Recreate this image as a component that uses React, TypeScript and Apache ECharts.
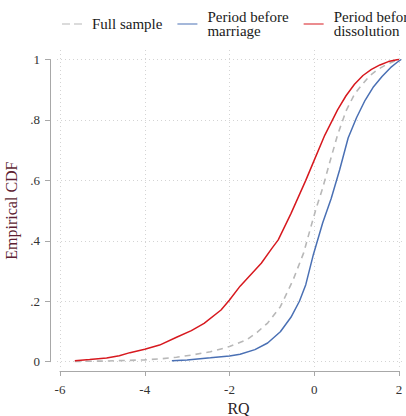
import React, { useEffect, useRef } from "react";
import * as echarts from "echarts";

// ---- Data ----
const fullX = [-5.65, -5.0, -4.5, -4.0, -3.6, -3.25, -2.9, -2.45, -2.0, -1.6, -1.35, -1.1, -0.8, -0.5, -0.25, -0.1, 0.05, 0.2, 0.35, 0.55, 0.75, 0.95, 1.1, 1.3, 1.5, 1.7, 1.9, 2.03];
const fullY = [0.001, 0.002, 0.004, 0.006, 0.01, 0.015, 0.022, 0.033, 0.05, 0.072, 0.097, 0.128, 0.182, 0.27, 0.36, 0.436, 0.51, 0.575, 0.652, 0.75, 0.83, 0.885, 0.912, 0.945, 0.967, 0.983, 0.995, 1.0];

const marX = [-3.36, -3.0, -2.45, -2.0, -1.75, -1.4, -1.1, -0.8, -0.55, -0.35, -0.2, -0.02, 0.2, 0.4, 0.6, 0.8, 1.0, 1.2, 1.4, 1.6, 1.8, 1.95, 2.05];
const marY = [0.003, 0.006, 0.013, 0.019, 0.025, 0.04, 0.062, 0.099, 0.147, 0.2, 0.255, 0.355, 0.46, 0.54, 0.635, 0.74, 0.808, 0.865, 0.91, 0.944, 0.973, 0.99, 1.0];

const disX = [-5.65, -5.3, -4.9, -4.6, -4.35, -4.0, -3.65, -3.25, -2.9, -2.6, -2.2, -2.0, -1.75, -1.5, -1.25, -1.0, -0.85, -0.55, -0.2, 0.0, 0.25, 0.55, 0.75, 0.95, 1.15, 1.35, 1.55, 1.75, 1.95, 2.0];
const disY = [0.003, 0.007, 0.012, 0.02, 0.03, 0.041, 0.055, 0.081, 0.103, 0.127, 0.171, 0.204, 0.25, 0.288, 0.326, 0.375, 0.403, 0.49, 0.6, 0.667, 0.75, 0.833, 0.88, 0.918, 0.947, 0.967, 0.982, 0.993, 0.999, 1.0];

const seriesNames = ["Full sample", "Period before\nmarriage", "Period before\ndissolution"];
const xTicks = [-6, -4, -2, 0, 2];
const yTicks = [0, 0.2, 0.4, 0.6, 0.8, 1];

const zip = (xs: number[], ys: number[]) => xs.map((x, i) => [x, ys[i]]);

const FONT = "Liberation Serif";

const fmtY = (v: number) => {
  if (Math.abs(v) < 1e-9) return "0";
  if (Math.abs(v - 1) < 1e-9) return "1";
  return String(+v.toFixed(1)).replace(/^0/, "");
};

const GRAY = "#b8b8b8";
const BLUE = "#4a70b4";
const RED = "#d7191f";

export default function App() {
  const ref = useRef<HTMLDivElement>(null);
  useEffect(() => {
    if (!ref.current) return;
    const chart = echarts.init(ref.current, undefined, { renderer: "svg" });
    const option: any = {
      animation: false,
      backgroundColor: "#ffffff",
      textStyle: { fontFamily: FONT },
      legend: {
        left: 62,
        top: 9,
        width: 900,
        padding: 0,
        itemWidth: 20,
        itemHeight: 1.6,
        itemGap: 15,
        data: [
          { name: seriesNames[0], icon: "path://M0,0h8v1h-8zM12,0h8v1h-8z", itemStyle: { color: GRAY } },
          { name: seriesNames[1], icon: "path://M0,0h20v1h-20z", itemStyle: { color: BLUE } },
          { name: seriesNames[2], icon: "path://M0,0h20v1h-20z", itemStyle: { color: RED } },
        ],
        textStyle: {
          fontFamily: FONT,
          fontSize: 15,
          lineHeight: 15,
          color: "#1a1a1a",
          padding: [0, 0, 0, 5],
        },
      },
      grid: [
        { left: 57, right: 4, top: 50, bottom: 48, outerBoundsMode: "none" },
        { left: 60, right: 7, top: 59.5, bottom: 54.3, outerBoundsMode: "none" },
      ],
      xAxis: [
        {
          type: "value",
          gridIndex: 0,
          min: -6.071,
          max: 2.071,
          axisLine: { show: false, onZero: false },
          axisTick: { show: false, customValues: xTicks },
          axisLabel: { show: false },
          splitLine: { show: true, lineStyle: { color: "#d4d4d4", width: 1, type: [1, 3] } },
        },
        {
          type: "value",
          gridIndex: 1,
          min: -6,
          max: 2,
          interval: 2,
          position: "bottom",
          offset: 9.3,
          name: "RQ",
          nameLocation: "middle",
          nameGap: 29,
          nameTextStyle: { fontFamily: FONT, fontSize: 16, color: "#2a2226", padding: [0, 0, 0, 18] },
          axisLine: { show: true, onZero: false, lineStyle: { color: "#a8a8a8", width: 1 } },
          axisTick: { show: true, length: 5, lineStyle: { color: "#a8a8a8" } },
          axisLabel: { show: true, margin: 12, fontFamily: FONT, fontSize: 13, color: "#333333" },
          splitLine: { show: false },
        },
      ],
      yAxis: [
        {
          type: "value",
          gridIndex: 0,
          min: -0.0208,
          max: 1.0314,
          axisLine: { show: false, onZero: false },
          axisTick: { show: false, customValues: yTicks },
          axisLabel: { show: false },
          splitLine: { show: true, lineStyle: { color: "#d4d4d4", width: 1, type: [1, 3] } },
        },
        {
          type: "value",
          gridIndex: 1,
          min: 0,
          max: 1,
          interval: 0.2,
          position: "left",
          offset: 10,
          name: "Empirical CDF",
          nameLocation: "middle",
          nameGap: 23,
          nameTextStyle: { fontFamily: FONT, fontSize: 16, color: "#5e1f33" },
          axisLine: { show: true, onZero: false, lineStyle: { color: "#a8a8a8", width: 1 } },
          axisTick: { show: true, length: 5, lineStyle: { color: "#a8a8a8" } },
          axisLabel: { show: true, margin: 10, fontFamily: FONT, fontSize: 13, color: "#333333", formatter: fmtY },
          splitLine: { show: false },
        },
      ],
      series: [
        {
          name: seriesNames[0],
          type: "line",
          xAxisIndex: 0,
          yAxisIndex: 0,
          data: zip(fullX, fullY),
          symbol: "none",
          itemStyle: { color: GRAY },
          lineStyle: { color: GRAY, width: 1.6, type: [6, 5] },
        },
        {
          name: seriesNames[1],
          type: "line",
          xAxisIndex: 0,
          yAxisIndex: 0,
          data: zip(marX, marY),
          symbol: "none",
          itemStyle: { color: BLUE },
          lineStyle: { color: BLUE, width: 1.5 },
        },
        {
          name: seriesNames[2],
          type: "line",
          xAxisIndex: 0,
          yAxisIndex: 0,
          data: zip(disX, disY),
          symbol: "none",
          itemStyle: { color: RED },
          lineStyle: { color: RED, width: 1.5 },
        },
      ],
    };
    chart.setOption(option);
    return () => chart.dispose();
  }, []);
  return (
    <div
      ref={ref}
      style={{ position: "absolute", left: 0, top: 0, width: 406, height: 416 }}
    />
  );
}
